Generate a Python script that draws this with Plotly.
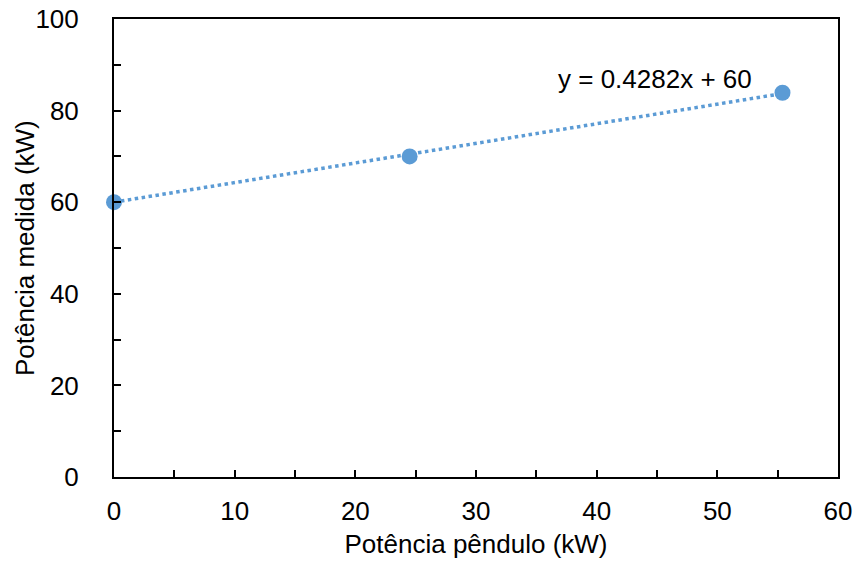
import plotly.graph_objects as go

x_vals = [0, 24.5, 55.4]
y_vals = [60, 70, 83.9]
slope = 0.4282
intercept = 60
eq_label = "y = 0.4282x + 60"

x_ticks = [0, 10, 20, 30, 40, 50, 60]
y_ticks = [0, 20, 40, 60, 80, 100]
x_title = "Potência pêndulo (kW)"
y_title = "Potência medida (kW)"

color = "#5B9BD5"
font_family = "Liberation Sans, Arial, sans-serif"
fs = 26

fig = go.Figure()
trend_x = [min(x_vals), max(x_vals)]
trend_y = [slope * v + intercept for v in trend_x]
fig.add_trace(go.Scatter(x=trend_x, y=trend_y, mode="lines",
                         line=dict(color=color, width=3.5, dash="dot"),
                         hoverinfo="skip", showlegend=False))
fig.add_trace(go.Scatter(x=x_vals, y=y_vals, mode="markers", cliponaxis=False,
                         marker=dict(color=color, size=16),
                         showlegend=False))

fig.add_annotation(x=44.8, y=86.8, text=eq_label, showarrow=False,
                   font=dict(size=fs, color="black", family=font_family),
                   xanchor="center", yanchor="middle")

fig.add_annotation(x=0, y=0.5, xref="paper", yref="paper", text=y_title,
                   textangle=-90, showarrow=False, xanchor="center", yanchor="middle",
                   xshift=-89, font=dict(size=fs, color="black", family=font_family))

fig.update_layout(
    width=854, height=563,
    margin=dict(l=114, r=16, t=19, b=86),
    paper_bgcolor="white", plot_bgcolor="white",
    font=dict(family=font_family, size=fs, color="black"),
)
fig.update_xaxes(range=[0, 60], tickvals=x_ticks, showgrid=False, zeroline=False,
                 automargin=False,
                 showline=True, linecolor="black", linewidth=2, mirror=True,
                 ticks="inside", ticklen=7, tickwidth=2, tickcolor="black",
                 minor=dict(dtick=5, tick0=0, ticks="inside", ticklen=7, tickwidth=2, tickcolor="black", showgrid=False),
                 ticklabelstandoff=10,
                 title=dict(text=x_title, standoff=10, font=dict(size=fs)))
fig.update_yaxes(range=[0, 100], tickvals=y_ticks, showgrid=False, zeroline=False,
                 automargin=False,
                 showline=True, linecolor="black", linewidth=2, mirror=True,
                 ticks="inside", ticklen=7, tickwidth=2, tickcolor="black",
                 minor=dict(dtick=10, tick0=0, ticks="inside", ticklen=7, tickwidth=2, tickcolor="black", showgrid=False),
                 ticklabelstandoff=28)

fig.write_html("out.html", config={"displayModeBar": False},
               post_script="document.body.style.margin='0';document.body.style.padding='0';")
